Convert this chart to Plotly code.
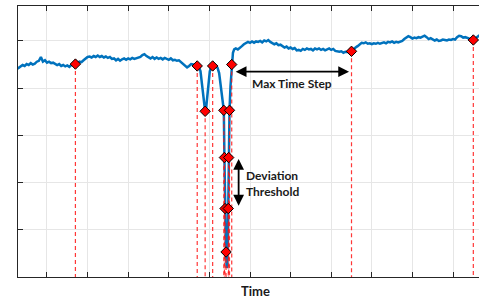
import numpy as np
import plotly.graph_objects as go

# ---------------- data ----------------
# Segment before the dip: uniform time samples t = 2.0 ... 46.5 (step 0.5)
seg1_start, seg1_step = 2.0, 0.5
seg1_values = [
    44.1, 44.0, 44.3, 44.6, 44.9, 44.7, 45.1, 44.9, 45.3, 45.0,
    45.2, 45.6, 45.8, 46.6, 45.6, 45.9, 45.4, 45.6, 45.3, 45.4,
    45.2, 44.9, 45.1, 44.7, 44.9, 44.6, 44.8, 44.5, 44.9, 45.0,
    45.1, 45.3, 45.6, 45.5, 45.9, 46.3, 46.6, 46.7, 46.5, 46.8,
    46.6, 46.9, 46.6, 46.8, 46.5, 46.7, 46.4, 46.6, 46.2, 46.3,
    45.9, 46.2, 45.8, 46.1, 46.3, 46.0, 46.3, 46.1, 46.4, 46.2,
    46.3, 46.5, 46.6, 47.0, 47.2, 46.8, 46.5, 46.3, 46.6, 46.2,
    46.5, 46.2, 46.4, 46.1, 46.4, 46.2, 46.0, 46.3, 45.9, 46.0,
    45.8, 45.9, 45.5, 45.3, 44.8, 44.4, 44.7, 45.1, 45.0, 44.8,
]

# The dip region (irregular samples)
dip_time = [47.0, 47.4, 47.8, 48.2, 48.5, 48.75, 48.95, 49.2, 49.5, 49.8,
            50.1, 50.4, 50.8, 51.2, 51.6, 52.0, 52.4, 52.8, 53.2, 53.55,
            53.7, 53.85, 54.1, 54.25, 54.4, 54.55, 54.65, 54.75, 54.95, 55.2,
            55.5, 55.8, 56.1, 56.5]
dip_values = [44.7, 44.5, 43.6, 41.0, 38.5, 36.3, 35.1, 35.8, 38.0, 41.0,
              43.6, 44.4, 44.7, 45.0, 44.8, 44.3, 43.2, 40.8, 37.8, 35.3,
              25.3, 14.5, 5.3, 1.9, 2.5, 8.0, 14.5, 25.3, 35.3, 40.5,
              45.0, 47.5, 48.2, 48.4]

# Segment after the dip: uniform time samples t = 57.0 ... 116.5 (step 0.5)
seg2_start, seg2_step = 57.0, 0.5
seg2_values = [
    48.2, 48.5, 48.9, 49.3, 49.5, 49.8, 49.6, 49.9, 49.6, 49.9,
    49.8, 50.0, 49.7, 50.1, 49.9, 50.2, 49.8, 49.6, 49.3, 49.5,
    49.1, 49.2, 48.9, 48.6, 48.8, 48.4, 48.6, 48.3, 48.5, 48.0,
    48.1, 47.9, 48.3, 48.1, 48.4, 48.2, 48.3, 48.0, 48.4, 48.2,
    48.4, 48.1, 48.3, 48.0, 48.2, 48.4, 48.1, 48.3, 47.9, 47.8,
    47.7, 47.8, 47.5, 47.7, 47.6, 47.6, 47.8, 48.3, 48.6, 48.9,
    49.3, 49.6, 49.5, 49.7, 49.4, 49.5, 49.3, 49.5, 49.4, 49.6,
    49.4, 49.6, 49.7, 49.5, 49.8, 49.7, 49.9, 49.6, 49.8, 49.7,
    49.8, 50.0, 50.4, 50.7, 51.0, 50.8, 50.5, 50.7, 50.6, 50.8,
    50.7, 50.9, 51.1, 50.8, 50.4, 50.6, 50.3, 50.1, 50.3, 50.0,
    50.1, 50.3, 50.2, 50.1, 50.3, 50.2, 50.4, 50.3, 50.8, 51.1,
    51.0, 50.7, 50.8, 50.6, 50.4, 50.3, 50.2, 50.5, 50.9, 51.2,
]

# Retained (compressed) points
kept_time = [17.0, 47.0, 48.95, 50.8, 53.55, 53.7, 53.85, 54.1, 54.65, 54.75,
             54.95, 55.5, 85.0, 115.0]
kept_values = [45.1, 44.7, 35.1, 44.7, 35.3, 25.3, 14.5, 5.3, 14.5, 25.3,
               35.3, 45.0, 47.8, 50.2]

# Annotation anchors (data units)
max_step_from, max_step_to, max_step_level = 56.1, 84.4, 43.5
dev_time, dev_low, dev_high = 57.2, 14.8, 25.0

x_range = [2.86, 116.4]
y_range = [0.0, 57.4]

# ---------------- build ----------------
seg1_time = seg1_start + seg1_step * np.arange(len(seg1_values))
seg2_time = seg2_start + seg2_step * np.arange(len(seg2_values))
time = np.concatenate([seg1_time, dip_time, seg2_time])
signal = np.concatenate([seg1_values, dip_values, seg2_values])

drop_x, drop_y = [], []
for t, v in zip(kept_time, kept_values):
    drop_x += [t, t, None]
    drop_y += [v, 0, None]

BLUE = "#0072BD"
AX = "#262626"
FONT = "Lato"

fig = go.Figure()
fig.add_trace(go.Scatter(x=time, y=signal, mode="lines",
                         line=dict(color=BLUE, width=2.5), hoverinfo="skip"))
fig.add_trace(go.Scatter(x=drop_x, y=drop_y, mode="lines",
                         line=dict(color="rgba(255,20,20,0.85)", width=1.2, dash="4px,3px"),
                         hoverinfo="skip"))
fig.add_trace(go.Scatter(x=kept_time, y=kept_values, mode="markers",
                         marker=dict(symbol="diamond", size=8, color="#FF0000",
                                     line=dict(color="#000000", width=1))))

# Max Time Step arrow
fig.add_annotation(x=max_step_to, y=max_step_level, ax=max_step_from, ay=max_step_level,
                   xref="x", yref="y", axref="x", ayref="y", text="",
                   showarrow=True, arrowside="end+start", arrowhead=2, arrowsize=1.2,
                   arrowwidth=1.8, arrowcolor="#000000", standoff=0, startstandoff=0)
fig.add_annotation(x=(max_step_from + max_step_to) / 2, y=max_step_level - 2.6,
                   xref="x", yref="y", text="<b>Max Time Step</b>", showarrow=False,
                   font=dict(family=FONT, size=12, color="#1a1a1a"))
# Deviation Threshold arrow
fig.add_annotation(x=dev_time, y=dev_high, ax=dev_time, ay=dev_low,
                   xref="x", yref="y", axref="x", ayref="y", text="",
                   showarrow=True, arrowside="end+start", arrowhead=2, arrowsize=1.2,
                   arrowwidth=1.8, arrowcolor="#000000", standoff=0, startstandoff=0)
fig.add_annotation(x=dev_time + 1.3, y=(dev_low + dev_high) / 2,
                   xref="x", yref="y", xanchor="left",
                   text="<b>Deviation<br>Threshold</b>", showarrow=False, align="left",
                   font=dict(family=FONT, size=12, color="#1a1a1a"))
# Axis title
fig.add_annotation(x=(255 - 18) / 461, y=-0.05, xref="paper", yref="paper",
                   yanchor="middle", text="<b>Time</b>", showarrow=False, height=14,
                   borderpad=0, font=dict(family=FONT, size=13, color="#1a1a1a"))

fig.update_layout(
    width=479, height=298, showlegend=False,
    margin=dict(l=18, r=0, t=6, b=21),
    paper_bgcolor="white", plot_bgcolor="white",
    font=dict(family=FONT),
)
fig.update_xaxes(range=x_range, tick0=0, dtick=10, showticklabels=False,
                 showgrid=True, gridcolor="#e6e6e6", gridwidth=1, zeroline=False,
                 showline=True, linecolor=AX, linewidth=1.2, mirror="ticks",
                 ticks="inside", ticklen=5, tickcolor=AX, tickwidth=1)
fig.update_yaxes(range=y_range, tick0=0, dtick=10, showticklabels=False,
                 showgrid=True, gridcolor="#e6e6e6", gridwidth=1, zeroline=False,
                 showline=True, linecolor=AX, linewidth=1.2, mirror=False,
                 ticks="inside", ticklen=5, tickcolor=AX, tickwidth=1)

fig.write_html("out.html", config={"displayModeBar": False},
               post_script="document.body.style.margin='0';document.body.style.overflow='hidden';")
